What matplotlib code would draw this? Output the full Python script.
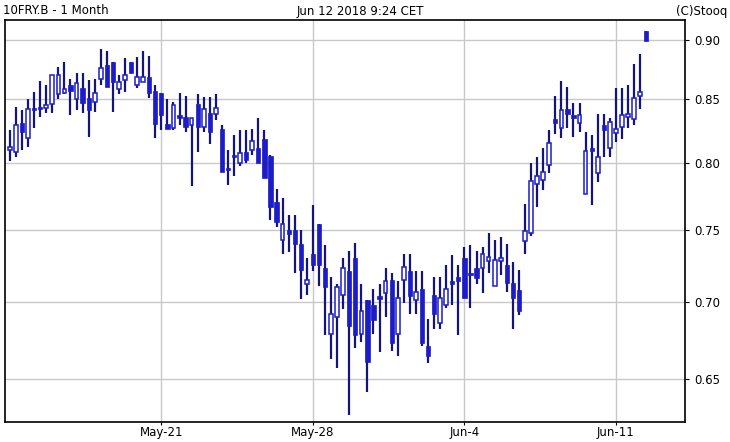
import matplotlib
matplotlib.use("Agg")
import matplotlib.pyplot as plt
from matplotlib.ticker import FixedLocator, NullLocator

# OHLC per candle
opens = [0.810, 0.808, 0.831, 0.819, 0.842, 0.844, 0.843, 0.846, 0.854, 0.855,
         0.862, 0.850, 0.859, 0.851, 0.848, 0.867, 0.878, 0.881, 0.858, 0.866,
         0.881, 0.862, 0.864, 0.868, 0.857, 0.855, 0.830, 0.827, 0.836, 0.836,
         0.829, 0.846, 0.828, 0.839, 0.838, 0.826, 0.795, 0.805, 0.800, 0.808,
         0.810, 0.811, 0.818, 0.805, 0.770, 0.743, 0.750, 0.750, 0.740, 0.712,
         0.733, 0.754, 0.723, 0.679, 0.690, 0.705, 0.721, 0.730, 0.679, 0.701,
         0.698, 0.703, 0.706, 0.715, 0.679, 0.715, 0.721, 0.701, 0.709, 0.671,
         0.705, 0.686, 0.698, 0.713, 0.717, 0.730, 0.719, 0.723, 0.723, 0.728,
         0.711, 0.728, 0.725, 0.713, 0.708, 0.742, 0.748, 0.784, 0.787, 0.798,
         0.834, 0.827, 0.842, 0.836, 0.831, 0.776, 0.810, 0.792, 0.829, 0.811,
         0.823, 0.828, 0.836, 0.834, 0.853, 0.907]
highs = [0.825, 0.844, 0.841, 0.850, 0.856, 0.865, 0.862, 0.870, 0.877, 0.881,
         0.867, 0.872, 0.872, 0.866, 0.867, 0.892, 0.890, 0.881, 0.870, 0.884,
         0.881, 0.885, 0.890, 0.886, 0.862, 0.855, 0.850, 0.848, 0.855, 0.853,
         0.835, 0.854, 0.852, 0.852, 0.854, 0.829, 0.810, 0.821, 0.825, 0.825,
         0.826, 0.835, 0.825, 0.806, 0.780, 0.773, 0.761, 0.761, 0.750, 0.730,
         0.768, 0.754, 0.739, 0.717, 0.712, 0.730, 0.735, 0.741, 0.712, 0.701,
         0.709, 0.712, 0.723, 0.720, 0.714, 0.733, 0.733, 0.721, 0.721, 0.689,
         0.717, 0.717, 0.725, 0.732, 0.725, 0.738, 0.739, 0.735, 0.738, 0.748,
         0.743, 0.745, 0.740, 0.727, 0.722, 0.769, 0.800, 0.804, 0.811, 0.825,
         0.853, 0.865, 0.860, 0.847, 0.847, 0.824, 0.821, 0.838, 0.838, 0.835,
         0.859, 0.859, 0.862, 0.879, 0.888, 0.907]
lows = [0.801, 0.804, 0.810, 0.812, 0.827, 0.836, 0.839, 0.839, 0.850, 0.854,
        0.837, 0.841, 0.839, 0.820, 0.840, 0.862, 0.860, 0.840, 0.854, 0.856,
        0.872, 0.859, 0.864, 0.851, 0.819, 0.825, 0.826, 0.825, 0.829, 0.824,
        0.782, 0.808, 0.824, 0.814, 0.833, 0.793, 0.783, 0.790, 0.797, 0.800,
        0.806, 0.800, 0.788, 0.757, 0.752, 0.733, 0.734, 0.720, 0.702, 0.705,
        0.721, 0.711, 0.678, 0.663, 0.657, 0.695, 0.628, 0.670, 0.674, 0.642,
        0.679, 0.667, 0.690, 0.668, 0.665, 0.699, 0.692, 0.692, 0.671, 0.660,
        0.682, 0.682, 0.696, 0.698, 0.678, 0.703, 0.696, 0.712, 0.706, 0.720,
        0.711, 0.718, 0.707, 0.682, 0.691, 0.733, 0.746, 0.767, 0.779, 0.792,
        0.822, 0.819, 0.827, 0.820, 0.824, 0.776, 0.768, 0.785, 0.804, 0.804,
        0.816, 0.818, 0.827, 0.829, 0.842, 0.899]
closes = [0.811, 0.829, 0.824, 0.842, 0.841, 0.842, 0.843, 0.870, 0.870, 0.858,
          0.857, 0.863, 0.847, 0.841, 0.855, 0.876, 0.860, 0.864, 0.864, 0.870,
          0.872, 0.868, 0.868, 0.855, 0.830, 0.837, 0.826, 0.845, 0.835, 0.828,
          0.835, 0.828, 0.842, 0.824, 0.843, 0.793, 0.794, 0.804, 0.807, 0.802,
          0.817, 0.800, 0.788, 0.767, 0.756, 0.754, 0.747, 0.740, 0.722, 0.715,
          0.725, 0.725, 0.710, 0.692, 0.710, 0.723, 0.684, 0.678, 0.694, 0.661,
          0.688, 0.702, 0.714, 0.673, 0.703, 0.724, 0.704, 0.707, 0.673, 0.665,
          0.692, 0.703, 0.709, 0.712, 0.714, 0.703, 0.718, 0.716, 0.733, 0.731,
          0.729, 0.730, 0.713, 0.703, 0.694, 0.749, 0.786, 0.790, 0.793, 0.815,
          0.831, 0.841, 0.838, 0.835, 0.837, 0.809, 0.809, 0.804, 0.825, 0.832,
          0.826, 0.837, 0.836, 0.851, 0.856, 0.899]
tick_pos = [25, 50, 75, 100]
tick_labels = ["May-21", "May-28", "Jun-4", "Jun-11"]
y_ticks = [0.65, 0.70, 0.75, 0.80, 0.85, 0.90]

fill_col = "#1c1cc8"
wick_col = "#14147a"

fig = plt.figure(figsize=(7.30, 4.42), dpi=100)
ax = fig.add_axes([5 / 730, 20 / 442, 680 / 730, 402 / 442])

for i, (o, h, l, c) in enumerate(zip(opens, highs, lows, closes)):
    ax.vlines(i, l, h, color=wick_col, linewidth=1.6, zorder=2)
    bottom, top = min(o, c), max(o, c)
    if top - bottom < 0.002:
        top = bottom + 0.002
    if c >= o:
        ax.bar(i, top - bottom, bottom=bottom, width=0.6, color="white",
               edgecolor=fill_col, linewidth=1.1, zorder=3)
    else:
        ax.bar(i, top - bottom, bottom=bottom, width=0.7, color=fill_col,
               edgecolor=fill_col, linewidth=0.5, zorder=3)

ax.set_yscale("log")
ax.set_ylim(0.624, 0.917)
ax.set_xlim(-0.8, 111.4)
ax.yaxis.set_major_locator(FixedLocator(y_ticks))
ax.yaxis.set_minor_locator(NullLocator())
ax.set_yticklabels([f"{v:.2f}" for v in y_ticks])
ax.yaxis.tick_right()
ax.set_xticks(tick_pos)
ax.set_xticklabels(tick_labels)
ax.tick_params(labelsize=8.5, length=3, colors="black")
ax.tick_params(axis="x", length=2, pad=1)
ax.grid(True, color="#c8c8c8", linewidth=1)
ax.set_axisbelow(True)
for s in ax.spines.values():
    s.set_linewidth(1.2)

fig.text(3 / 730, 1 - 11 / 442, "10FRY.B - 1 Month", fontsize=8.5, va="center")
fig.text(360 / 730, 1 - 11 / 442, "Jun 12 2018 9:24 CET", fontsize=8.5,
         va="center", ha="center")
fig.text(727 / 730, 1 - 11 / 442, "(C)Stooq", fontsize=8.5, va="center", ha="right")

fig.savefig("out.png", dpi=100)
